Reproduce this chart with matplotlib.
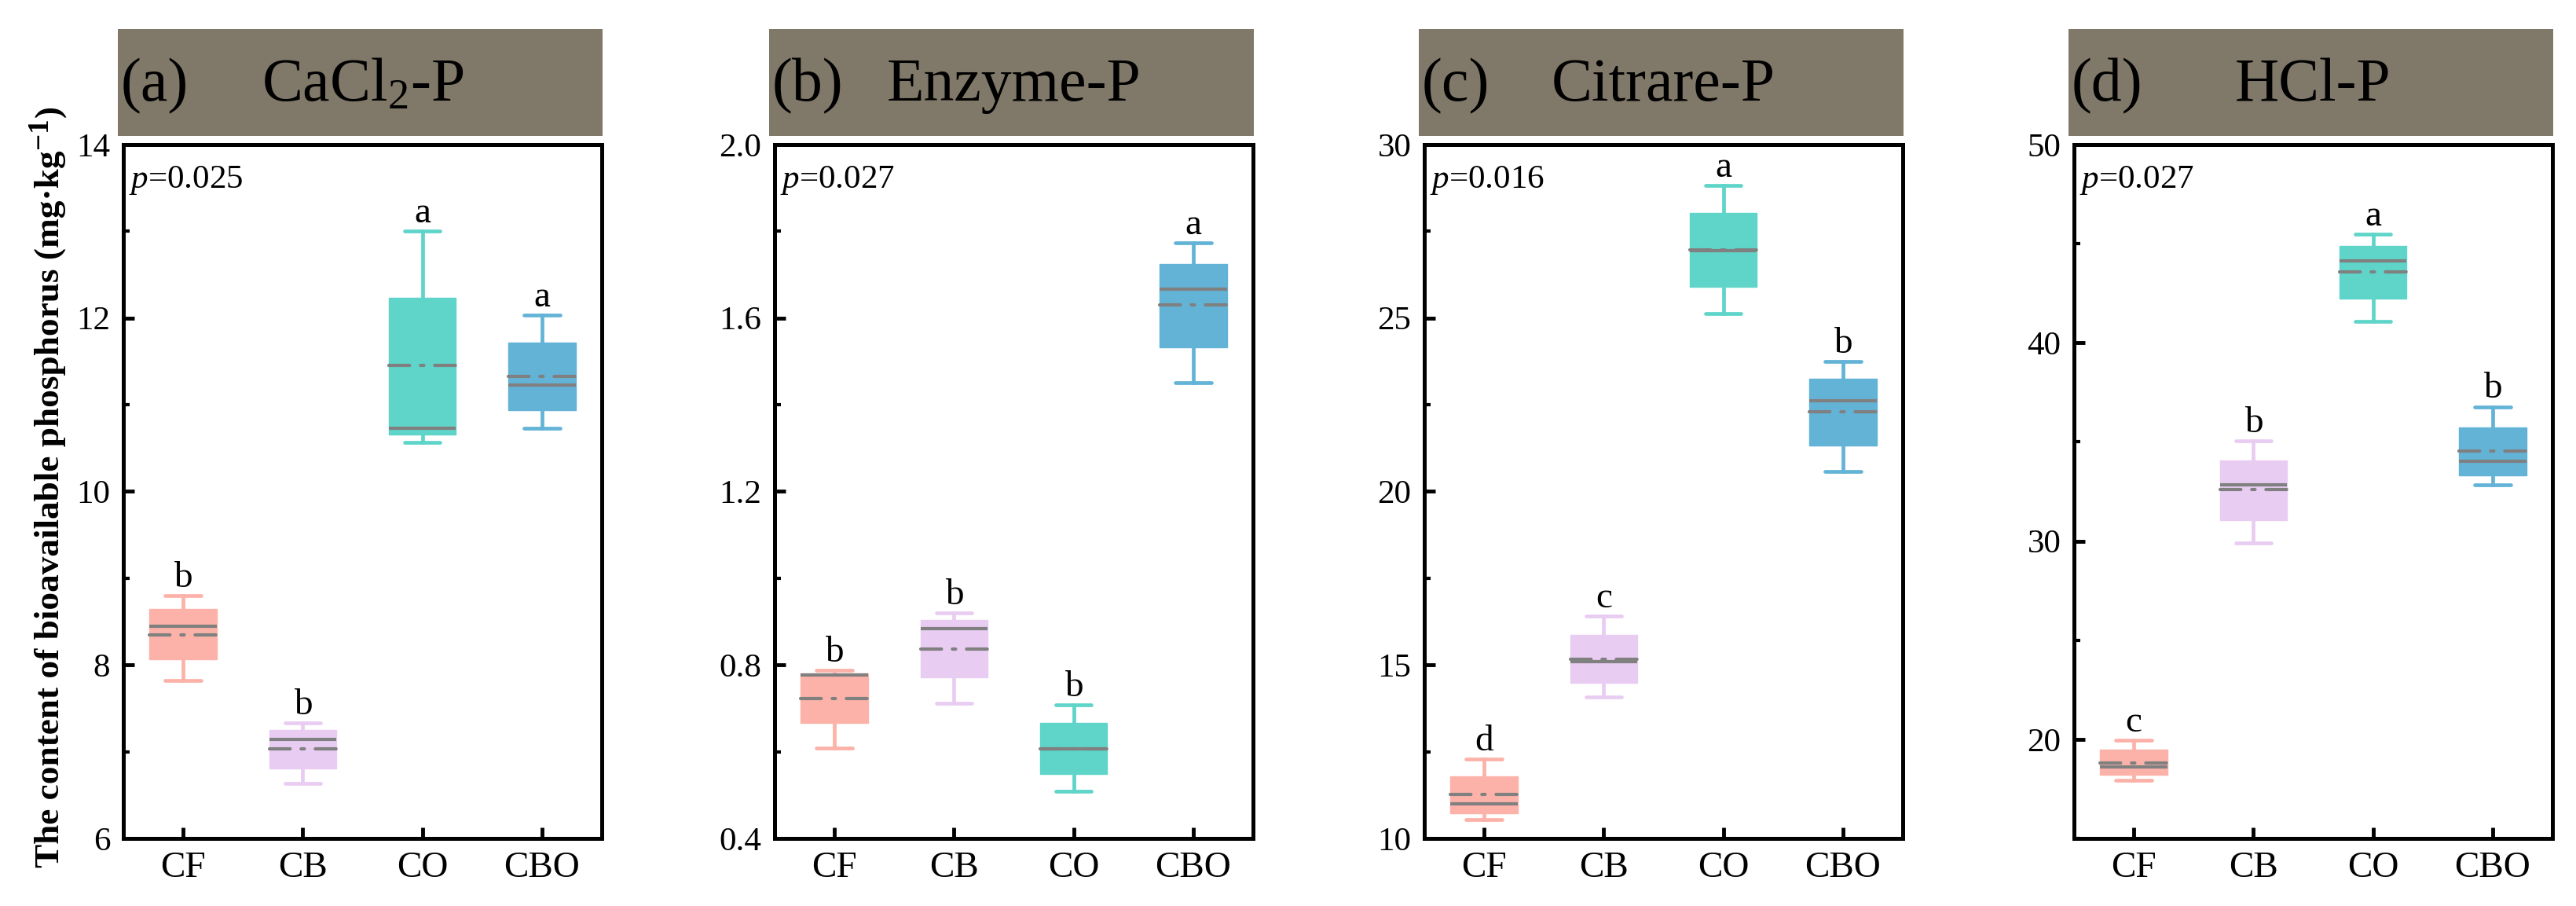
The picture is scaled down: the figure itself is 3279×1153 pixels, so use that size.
import matplotlib
matplotlib.use("Agg")
import matplotlib.pyplot as plt
from matplotlib.patches import Rectangle
from matplotlib.ticker import MultipleLocator, FormatStrFormatter

plt.rcParams['font.family'] = ['Liberation Serif', 'DejaVu Serif']
plt.rcParams['mathtext.fontset'] = 'custom'
plt.rcParams['mathtext.rm'] = 'Liberation Serif'
plt.rcParams['mathtext.it'] = 'Liberation Serif:italic'
plt.rcParams['mathtext.bf'] = 'Liberation Serif:bold'
plt.rcParams['lines.scale_dashes'] = False

# ---------------- data ----------------
groups = ["CF", "CB", "CO", "CBO"]
colors = ["#FCB2A8", "#E8CCF2", "#5FD4C9", "#63B3D7"]

panel_tags = ["(a)", "(b)", "(c)", "(d)"]
panel_titles = [r"CaCl$_2$-P", "Enzyme-P", "Citrare-P", "HCl-P"]
p_values = ["0.025", "0.027", "0.016", "0.027"]

# CaCl2-P
a_whislo = [7.82, 6.63, 10.57, 10.73]
a_q1     = [8.07, 6.81, 10.66, 10.94]
a_med    = [8.45, 7.14, 10.73, 11.23]
a_mean   = [8.35, 7.03, 11.45, 11.33]
a_q3     = [8.65, 7.25, 12.23, 11.72]
a_whishi = [8.80, 7.33, 13.00, 12.03]
a_letters = ["b", "b", "a", "a"]

# Enzyme-P
b_whislo = [0.609, 0.711, 0.508, 1.451]
b_q1     = [0.667, 0.771, 0.549, 1.533]
b_med    = [0.776, 0.883, 0.607, 1.667]
b_mean   = [0.723, 0.836, 0.607, 1.631]
b_q3     = [0.780, 0.903, 0.667, 1.725]
b_whishi = [0.787, 0.920, 0.708, 1.773]
b_letters = ["b", "b", "b", "a"]

# Citrare-P
c_whislo = [10.55, 14.07, 25.12, 20.57]
c_q1     = [10.72, 14.48, 25.90, 21.33]
c_med    = [11.00, 15.10, 26.95, 22.62]
c_mean   = [11.27, 15.17, 26.97, 22.30]
c_q3     = [11.80, 15.87, 28.03, 23.25]
c_whishi = [12.28, 16.40, 28.83, 23.75]
c_letters = ["d", "c", "a", "b"]

# HCl-P
d_whislo = [17.95, 29.90, 41.10, 32.82]
d_q1     = [18.21, 31.04, 42.24, 33.31]
d_med    = [18.59, 32.85, 44.13, 34.04]
d_mean   = [18.82, 32.61, 43.58, 34.54]
d_q3     = [19.46, 34.07, 44.90, 35.73]
d_whishi = [19.96, 35.06, 45.48, 36.78]
d_letters = ["c", "b", "a", "b"]

ylims = [(6, 14), (0.4, 2.0), (10, 30), (15, 50)]
major_steps = [2, 0.4, 5, 10]
minor_steps = [1, 0.2, 2.5, 5]
tick_fmt = ["%d", "%.1f", "%d", "%d"]

ylabel_main = "The content of bioavailable phosphorus (mg·kg"
ylabel_sup = "\u22121"
ylabel_close = ")"

panels = [
    (a_whislo, a_q1, a_med, a_mean, a_q3, a_whishi, a_letters),
    (b_whislo, b_q1, b_med, b_mean, b_q3, b_whishi, b_letters),
    (c_whislo, c_q1, c_med, c_mean, c_q3, c_whishi, c_letters),
    (d_whislo, d_q1, d_med, d_mean, d_q3, d_whishi, d_letters),
]

# ---------------- figure ----------------
W, H = 3280, 1153
fig = plt.figure(figsize=(W / 100, H / 100), dpi=100)

ax_lefts = [157, 986, 1813, 2640]
ax_width = 609
ax_top, ax_bottom = 184, 1067
header_color = "#807868"
gray = "#808080"

for i, (lo, q1, med, mean, q3, hi, letters) in enumerate(panels):
    ax = fig.add_axes([ax_lefts[i] / W, 1 - ax_bottom / H,
                       ax_width / W, (ax_bottom - ax_top) / H])
    stats = []
    for j, g in enumerate(groups):
        stats.append(dict(label=g, whislo=lo[j], q1=q1[j], med=med[j],
                          mean=mean[j], q3=q3[j], whishi=hi[j], fliers=[]))
    bp = ax.bxp(stats, positions=[1, 2, 3, 4], widths=0.56, capwidths=0.30,
                patch_artist=True, showmeans=True, meanline=True,
                showfliers=False,
                medianprops=dict(color=gray, linewidth=3.0, solid_capstyle='butt'),
                meanprops=dict(color=gray, linewidth=3.0,
                               linestyle=(0, (19, 10, 3, 10)),
                               dash_capstyle='round'))
    for j, patch in enumerate(bp['boxes']):
        patch.set_facecolor(colors[j])
        patch.set_edgecolor(colors[j])
        patch.set_linewidth(1.0)
    for j in range(4):
        for w in bp['whiskers'][2 * j:2 * j + 2]:
            w.set_color(colors[j]); w.set_linewidth(3.4)
        for c in bp['caps'][2 * j:2 * j + 2]:
            c.set_color(colors[j]); c.set_linewidth(3.4)
            c.set_solid_capstyle('round')
        ax.annotate(letters[j], xy=(j + 1, hi[j]), xytext=(0, 8),
                    textcoords='offset points', ha='center', va='baseline',
                    fontsize=34)

    ax.set_xlim(0.5, 4.5)
    ax.set_ylim(*ylims[i])
    ax.yaxis.set_major_locator(MultipleLocator(major_steps[i]))
    ax.yaxis.set_minor_locator(MultipleLocator(minor_steps[i]))
    ax.yaxis.set_major_formatter(FormatStrFormatter(tick_fmt[i]))
    ax.set_xticks([1, 2, 3, 4])
    ax.set_xticklabels(groups)
    ax.tick_params(axis='y', which='major', direction='in', length=10,
                   width=3.5, labelsize=31, pad=12, right=False)
    ax.tick_params(axis='y', which='minor', direction='in', length=6,
                   width=3.0, right=False)
    ax.tick_params(axis='x', which='major', direction='in', length=10,
                   width=3.5, labelsize=34, pad=12, top=False)
    ax.tick_params(axis='x', which='minor', bottom=False, top=False)
    for sp in ax.spines.values():
        sp.set_linewidth(3.6)

    ax.text(0.012, 0.972, r"$\it{p}$=" + p_values[i], transform=ax.transAxes,
            ha='left', va='top', fontsize=31)

    # header strip
    h_bot = 1 + (ax_top - 173) / (ax_bottom - ax_top)
    h_top = 1 + (ax_top - 37) / (ax_bottom - ax_top)
    x0 = -7 / ax_width
    ax.add_patch(Rectangle((x0, h_bot), 1 - x0 + 1 / ax_width, h_top - h_bot,
                           transform=ax.transAxes, facecolor=header_color,
                           edgecolor='none', clip_on=False))
    ymid = (h_bot + h_top) / 2
    ax.text(x0 + 0.006, ymid - 0.005, panel_tags[i], transform=ax.transAxes,
            ha='left', va='center', fontsize=56)
    ax.text(0.5, ymid - 0.005, panel_titles[i], transform=ax.transAxes,
            ha='center', va='center', fontsize=56)

# ---- y-axis label (main text + large superscript + closing bracket) ----
label_top, label_bot = 132, 1104
label_xc = 64
renderer = fig.canvas.get_renderer()
t_main = fig.text(label_xc / W, 1 - label_bot / H, ylabel_main, rotation=90,
                  ha='center', va='bottom', fontsize=31, fontweight='bold')
t_sup = fig.text(0, 0, ylabel_sup, rotation=90, ha='center', va='bottom',
                 fontsize=26, fontweight='bold')
t_close = fig.text(label_xc / W, 0, ylabel_close, rotation=90, ha='center',
                   va='bottom', fontsize=31, fontweight='bold')


def place_label(fs):
    t_main.set_fontsize(fs)
    t_sup.set_fontsize(fs * 0.82)
    t_close.set_fontsize(fs)
    em = t_main.get_window_extent(renderer)
    t_sup.set_position((em.x0 / W + 0.002, (em.y1 + 2) / H))
    es = t_sup.get_window_extent(renderer)
    t_close.set_position((label_xc / W, (es.y1 + 1) / H))
    ec = t_close.get_window_extent(renderer)
    return ec.y1 - em.y0


fs = 31.0
for _ in range(3):
    span = place_label(fs)
    fs *= (label_bot - label_top) / span
place_label(fs)

fig.savefig("out.png", dpi=100)
